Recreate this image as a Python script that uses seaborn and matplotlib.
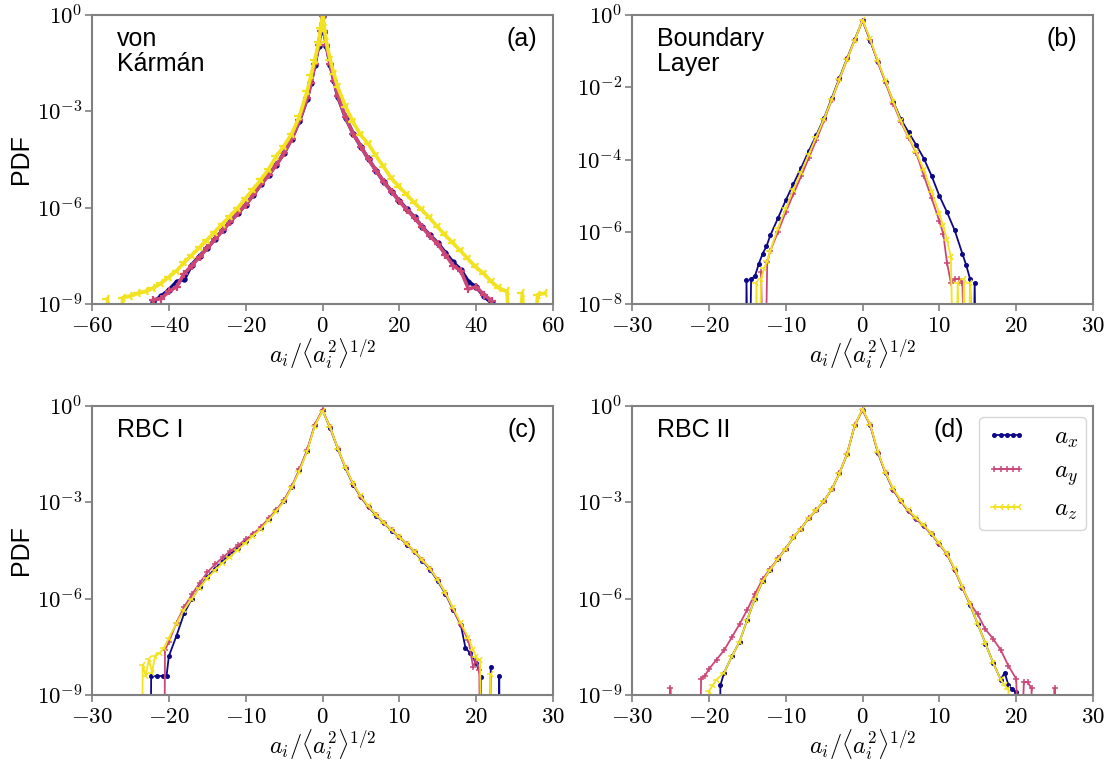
import numpy as np
import matplotlib
matplotlib.use("Agg")
import matplotlib.pyplot as plt
import seaborn as sns
from matplotlib.ticker import FuncFormatter, FixedLocator, NullLocator

# ---------------- data ----------------
# panel (a) von Karman
a_xy_x = [-46, -44, -42, -40, -38, -36, -34, -32, -30, -28, -26, -24, -22, -20, -18, -16, -14, -12, -10, -8, -6, -4,
          -3, -2, -1, -0.5, 0, 0.5, 1, 2, 3,
          4, 6, 8, 10, 12, 14, 16, 18, 20, 22, 24, 26, 28, 30, 32, 34, 36, 38, 40, 42, 44, 46]
a_ax_y = [1e-12, 1.2e-9, 1.8e-9, 2.8e-9, 5e-9, 6e-9, 1.7e-8, 3.2e-8, 5.6e-8, 1.07e-7, 2e-7, 3.8e-7, 6.8e-7, 1.26e-6,
          2.5e-6, 5.4e-6, 1.07e-5, 2.2e-5, 5e-5, 1.4e-4, 5e-4, 2.4e-3,
          7.5e-3, 0.028, 0.11, 0.3, 0.89, 0.3, 0.11, 0.028, 8.5e-3,
          2.8e-3, 6.3e-4, 2e-4, 7.9e-5, 3.2e-5, 1.4e-5, 6.3e-6, 3.2e-6, 1.66e-6, 8.9e-7, 5e-7, 2.5e-7, 1.4e-7, 8e-8,
          4e-8, 2e-8, 1.2e-8, 5e-9, 3.5e-9, 1.8e-9, 1.1e-9, 1e-12]
a_ay_y = [1e-12, 1.4e-9, 1.5e-9, 2.5e-9, 3.5e-9, 9e-9, 1.6e-8, 3e-8, 5.5e-8, 1.05e-7, 2e-7, 3.7e-7, 6.8e-7, 1.25e-6,
          2.5e-6, 5.3e-6, 1.05e-5, 2.2e-5, 5e-5, 1.4e-4, 5.2e-4, 2.5e-3,
          7.8e-3, 0.029, 0.115, 0.31, 0.92, 0.31, 0.115, 0.029, 9e-3,
          2.9e-3, 6.4e-4, 2e-4, 8e-5, 3.2e-5, 1.4e-5, 6.3e-6, 3.1e-6, 1.6e-6, 8.5e-7, 4.8e-7, 2.5e-7, 1.3e-7, 7.5e-8,
          3.5e-8, 1.6e-8, 1.1e-8, 3e-9, 3.5e-9, 2e-9, 1.3e-9, 1e-12]
a_az_x = [-56, -54, -52, -50, -48, -46, -44, -42, -40, -38, -36, -34, -32, -30, -28, -26, -24, -22, -20, -18, -16,
          -14, -12, -10, -8, -6, -4,
          -3, -2, -1, -0.5, 0, 0.5, 1, 2, 3,
          4, 6, 8, 10, 12, 14, 16, 18, 20, 22, 24, 26, 28, 30, 32, 34, 36, 38, 40, 42, 44, 46, 48, 50, 52, 54, 56, 58]
a_az_y = [1.5e-9, 1e-12, 1.6e-9, 1.8e-9, 2.2e-9, 2.5e-9, 3.2e-9, 4.5e-9, 7e-9, 1.1e-8, 2e-8, 3.4e-8, 5.9e-8, 1e-7,
          1.8e-7, 3.2e-7, 5.6e-7, 1e-6, 2e-6, 3.8e-6, 7.6e-6, 1.6e-5, 4e-5, 8.5e-5, 2e-4, 7e-4, 4.2e-3,
          0.013, 0.04, 0.14, 0.38, 0.95, 0.38, 0.14, 0.04, 0.014,
          5.5e-3, 1.4e-3, 4.5e-4, 1.8e-4, 9.3e-5, 4e-5, 1.8e-5, 8e-6, 4.5e-6, 2.5e-6, 1.4e-6, 8.3e-7, 4.7e-7, 2.5e-7,
          1.4e-7, 8e-8, 4.5e-8, 2.5e-8, 1.4e-8, 9e-9, 5e-9, 3.2e-9, 2.5e-9, 1e-12, 2.2e-9, 1e-12, 2e-9, 2.2e-9]

# panel (b) boundary layer
b_ax_x = [-15.2, -15.1, -14.8, -14.5, -14, -13.5, -13, -12.5, -12, -11, -10, -9, -8, -7, -6, -5, -4, -3, -2, -1, 0,
          1, 2, 3, 4, 5, 6, 7, 8, 9, 10, 11, 12, 13, 13.5, 14, 14.3, 14.6, 14.9]
b_ax_y = [1e-12, 4.7e-8, 1e-12, 5e-8, 6e-8, 1.3e-7, 2.5e-7, 4e-7, 8e-7, 2.4e-6, 7.4e-6, 2.1e-5, 5.8e-5, 1.7e-4,
          4.8e-4, 1.4e-3, 5e-3, 0.018, 0.063, 0.21, 0.7,
          0.19, 0.05, 0.0138, 4e-3, 1.3e-3, 5.6e-4, 2.5e-4, 1.05e-4, 3.5e-5, 1e-5, 3.5e-6, 1.1e-6, 2.5e-7, 1.2e-7,
          5e-8, 1e-12, 4e-8, 1e-12]
b_ay_x = [-13.4, -13.2, -12.8, -12.4, -12, -11, -10, -9, -8, -7, -6, -5, -4, -3, -2, -1, 0,
          1, 2, 3, 4, 5, 6, 7, 8, 9, 10, 10.5, 11, 11.5, 12, 12.5, 13, 13.5]
b_ay_y = [1e-12, 8e-8, 1e-12, 1.5e-7, 3e-7, 1e-6, 3.5e-6, 1.1e-5, 3.4e-5, 1.1e-4, 3.5e-4, 1.2e-3, 4.4e-3, 0.016,
          0.058, 0.2, 0.68,
          0.2, 0.048, 0.013, 3.5e-3, 1.07e-3, 4e-4, 1.5e-4, 3.5e-5, 8.5e-6, 2e-6, 9e-7, 1.4e-7, 4e-8, 5e-8, 5e-8,
          4e-8, 1e-12]
b_az_x = [-14, -13.8, -13.5, -13.2, -12.8, -12.4, -12, -11, -10, -9, -8, -7, -6, -5, -4, -3, -2, -1, 0,
          1, 2, 3, 4, 5, 6, 7, 8, 9, 10, 10.5, 11, 11.5, 12, 12.4, 12.8, 13.2, 13.6, 14, 14.2]
b_az_y = [1e-12, 4e-8, 1e-12, 5e-8, 1e-7, 1.6e-7, 3e-7, 1.3e-6, 4.5e-6, 1.5e-5, 4.5e-5, 1.4e-4, 4.3e-4, 1.35e-3,
          4.6e-3, 0.017, 0.06, 0.2, 0.72,
          0.21, 0.052, 0.0145, 4e-3, 1.15e-3, 4.2e-4, 1.6e-4, 5e-5, 1.3e-5, 3.2e-6, 1.5e-6, 6e-7, 2e-7, 1e-12,
          4e-8, 1e-12, 5e-8, 1e-12, 4e-8, 1e-12]

# panel (c) RBC I
c_ax_x = [-22.4, -22.3, -21.5, -20.8, -20.3, -20, -19, -18, -17, -16, -15, -14, -13, -12, -11, -10, -9, -8, -7, -6,
          -5, -4, -3, -2, -1, 0, 1, 2, 3, 4, 5, 6, 7, 8, 9, 10, 11, 12, 13, 14, 15, 16, 17, 18,
          18.6, 19.2, 20, 20.6, 20.8, 21.8, 21.9, 22.1, 22.9, 23, 23.1]
c_ax_y = [1e-12, 3.9e-9, 3.9e-9, 3.9e-9, 3.9e-9, 1.6e-8, 7e-8, 3.5e-7, 1e-6, 2.3e-6, 4.7e-6, 8.5e-6, 1.5e-5, 2.4e-5,
          3.8e-5, 6.3e-5, 1e-4, 1.6e-4, 3e-4, 5.6e-4, 1.1e-3, 3e-3, 0.01, 0.04, 0.25, 0.72,
          0.2, 0.045, 0.0112, 3.5e-3, 1.4e-3, 7e-4, 3.8e-4, 2.2e-4, 1.3e-4, 8e-5, 4.8e-5, 2.8e-5, 1.5e-5, 8e-6,
          3.5e-6, 1.4e-6, 4.5e-7, 1.5e-7,
          3e-8, 2e-8, 1e-8, 3.7e-9, 1e-12, 1e-12, 7.6e-9, 1e-12, 1e-12, 4e-9, 1e-12]
c_ay_x = [-20.6, -20.5, -20, -19, -18, -17, -16, -15, -14, -13, -12, -11, -10, -9, -8, -7, -6, -5, -4, -3, -2, -1, 0,
          1, 2, 3, 4, 5, 6, 7, 8, 9, 10, 11, 12, 13, 14, 15, 16, 17, 18, 19, 19.6, 20, 20.4, 20.6]
c_ay_y = [1e-12, 2.5e-8, 4.5e-8, 1.8e-7, 5.5e-7, 1.35e-6, 3e-6, 6.5e-6, 1.15e-5, 1.9e-5, 3e-5, 4.5e-5, 7e-5, 1.05e-4,
          1.7e-4, 3.1e-4, 5.8e-4, 1.15e-3, 3.1e-3, 0.0105, 0.042, 0.26, 0.74,
          0.21, 0.046, 0.0115, 3.6e-3, 1.45e-3, 7.2e-4, 3.9e-4, 2.3e-4, 1.35e-4, 8.3e-5, 5e-5, 2.9e-5, 1.6e-5,
          8.5e-6, 3.8e-6, 1.5e-6, 4.8e-7, 1.5e-7, 5e-8, 7.5e-9, 1.2e-8, 6e-9, 1e-12]
c_az_x = [-23.5, -23.4, -23, -22.6, -22.2, -21.8, -21.2, -20.6, -20, -19, -18, -17, -16, -15, -14, -13, -12, -11,
          -10, -9, -8, -7, -6, -5, -4, -3, -2, -1, 0,
          1, 2, 3, 4, 5, 6, 7, 8, 9, 10, 11, 12, 13, 14, 15, 16, 17, 18, 19, 19.6, 20, 20.5, 20.8, 21.8, 21.9, 22.1]
c_az_y = [1e-12, 8.5e-9, 4e-9, 1.3e-8, 5e-9, 1.6e-8, 2e-8, 3e-8, 6e-8, 1.7e-7, 4.5e-7, 1e-6, 2.2e-6, 4.3e-6, 7.5e-6,
          1.3e-5, 2e-5, 3.3e-5, 5.5e-5, 9e-5, 1.5e-4, 2.8e-4, 5.3e-4, 1.05e-3, 2.9e-3, 0.0095, 0.038, 0.24, 0.7,
          0.21, 0.046, 0.0118, 3.7e-3, 1.5e-3, 7.4e-4, 4e-4, 2.3e-4, 1.35e-4, 8.3e-5, 5e-5, 2.9e-5, 1.6e-5, 8.5e-6,
          3.8e-6, 1.5e-6, 5e-7, 1.7e-7, 6e-8, 2.5e-8, 1.5e-8, 1.2e-8, 1e-12, 1e-12, 4.5e-9, 1e-12]

# panel (d) RBC II
d_ax_x = [-18.6, -18.5, -18, -17, -16, -15, -14, -13, -12, -11, -10, -9, -8, -7, -6, -5, -4, -3, -2, -1, 0,
          1, 2, 3, 4, 5, 6, 7, 8, 9, 10, 11, 12, 13, 14, 15, 16, 17, 18, 18.5, 19, 19.5, 20, 20.2]
d_ax_y = [1e-12, 2e-9, 5e-9, 1.6e-8, 4.5e-8, 2.2e-7, 1e-6, 3.5e-6, 8e-6, 1.7e-5, 3.5e-5, 8e-5, 1.5e-4, 3.2e-4,
          5.6e-4, 1.1e-3, 2.5e-3, 7.9e-3, 0.032, 0.25, 0.75,
          0.25, 0.035, 7.9e-3, 2.4e-3, 1.05e-3, 5.2e-4, 3e-4, 1.8e-4, 1e-4, 5e-5, 2.4e-5, 7.9e-6, 2.2e-6, 6.3e-7,
          1.6e-7, 4e-8, 1e-8, 3e-9, 5e-9, 2e-9, 1.5e-9, 1.2e-9, 1e-12]
d_ay_x = [-25.1, -25, -24.9, -21.3, -21, -20.5, -20, -19, -18, -17, -16, -15, -14, -13, -12, -11, -10, -9, -8, -7,
          -6, -5, -4, -3, -2, -1, 0,
          1, 2, 3, 4, 5, 6, 7, 8, 9, 10, 11, 12, 13, 14, 15, 16, 17, 18, 19, 20,
          20.5, 21, 21.5, 22, 22.2, 24.9, 25, 25.1]
d_ay_y = [1e-12, 1.6e-9, 1e-12, 1e-12, 3.2e-9, 4e-9, 6.3e-9, 1.26e-8, 2.5e-8, 6.3e-8, 1.6e-7, 4.5e-7, 1.4e-6, 4e-6,
          8.5e-6, 1.8e-5, 3.6e-5, 8e-5, 1.5e-4, 3.2e-4, 5.6e-4, 1.1e-3, 2.5e-3, 7.9e-3, 0.032, 0.25, 0.74,
          0.25, 0.035, 7.9e-3, 2.4e-3, 1.05e-3, 5.2e-4, 3e-4, 1.8e-4, 1e-4, 5e-5, 2.4e-5, 7.9e-6, 2.2e-6, 7e-7,
          3.2e-7, 1.1e-7, 5.6e-8, 2.5e-8, 8e-9, 3.2e-9,
          1e-12, 2.5e-9, 2.5e-9, 1.6e-9, 1e-12, 1e-12, 1.6e-9, 1e-12]
d_az_x = [-20.1, -20, -19.5, -19, -18, -17, -16, -15, -14, -13, -12, -11, -10, -9, -8, -7, -6, -5, -4, -3, -2, -1, 0,
          1, 2, 3, 4, 5, 6, 7, 8, 9, 10, 11, 12, 13, 14, 15, 16, 17, 18, 18.5, 19, 19.1]
d_az_y = [1e-12, 1.3e-9, 2e-9, 3e-9, 5e-9, 1.6e-8, 4.5e-8, 2.2e-7, 1e-6, 3.5e-6, 8e-6, 1.7e-5, 3.5e-5, 8e-5, 1.5e-4,
          3.2e-4, 5.6e-4, 1.1e-3, 2.5e-3, 7.9e-3, 0.032, 0.25, 0.78,
          0.26, 0.037, 8.3e-3, 2.6e-3, 1.12e-3, 5.6e-4, 3.2e-4, 1.9e-4, 1.05e-4, 5.2e-5, 2.5e-5, 8.3e-6, 2.3e-6,
          6.6e-7, 1.6e-7, 4e-8, 1e-8, 3e-9, 2e-9, 1.5e-9, 1e-12]

series_labels = [r"$a_x$", r"$a_y$", r"$a_z$"]
panel_names = ["von\nKármán", "Boundary\nLayer", "RBC I", "RBC II"]
panel_tags = ["(a)", "(b)", "(c)", "(d)"]
x_limits = [(-60, 60), (-30, 30), (-30, 30), (-30, 30)]
x_ticks = [[-60, -40, -20, 0, 20, 40, 60], [-30, -20, -10, 0, 10, 20, 30],
           [-30, -20, -10, 0, 10, 20, 30], [-30, -20, -10, 0, 10, 20, 30]]
y_limits = [(1e-9, 1e0), (1e-8, 1e0), (1e-9, 1e0), (1e-9, 1e0)]
y_ticks = [[1e-9, 1e-6, 1e-3, 1e0], [1e-8, 1e-6, 1e-4, 1e-2, 1e0],
           [1e-9, 1e-6, 1e-3, 1e0], [1e-9, 1e-6, 1e-3, 1e0]]

panels = [
    [(a_xy_x, a_ax_y), (a_xy_x, a_ay_y), (a_az_x, a_az_y)],
    [(b_ax_x, b_ax_y), (b_ay_x, b_ay_y), (b_az_x, b_az_y)],
    [(c_ax_x, c_ax_y), (c_ay_x, c_ay_y), (c_az_x, c_az_y)],
    [(d_ax_x, d_ax_y), (d_ay_x, d_ay_y), (d_az_x, d_az_y)],
]

# ---------------- style ----------------
sns.set_theme(style="ticks")
plt.rcParams['font.family'] = ['Liberation Sans', 'DejaVu Sans']
plt.rcParams['mathtext.fontset'] = 'cm'
plt.rcParams['text.color'] = 'black'
plt.rcParams['axes.labelcolor'] = 'black'

colors = ["#0d0887", "#cc4778", "#f3e21f"]
markers = [".", "+", "3"]
spine_col = "#808080"

W, H = 1110, 767
fig = plt.figure(figsize=(W / 100, H / 100), dpi=100)
boxes = [(92, 14.7, 553, 304.3), (632, 14.7, 1093, 304.3),
         (92, 405.7, 553, 695.0), (632, 405.7, 1093, 695.0)]

xfmt = FuncFormatter(lambda v, p: f"${v:.0f}$")
yfmt = FuncFormatter(lambda v, p: f"$10^{{{int(round(np.log10(v)))}}}$")

axes = []
for i, (l, t, r, b) in enumerate(boxes):
    ax = fig.add_axes([l / W, 1 - b / H, (r - l) / W, (b - t) / H])
    ax.set_yscale("log")
    dense = (i == 0)
    for j, (xs, ys) in enumerate(panels[i]):
        ms = [6, 6, 7][j] if dense else [5, 5, 6][j]
        sns.lineplot(x=xs, y=ys, ax=ax, color=colors[j], marker=markers[j], markersize=ms,
                     markeredgecolor=colors[j], markerfacecolor=colors[j],
                     markeredgewidth=1.6 if dense else 1.1,
                     linewidth=2.6 if dense else 1.3, estimator=None, sort=False, legend=False,
                     label=series_labels[j] if i == 3 else None)
    ax.set_xlim(*x_limits[i])
    ax.set_ylim(*y_limits[i])
    ax.xaxis.set_major_locator(FixedLocator(x_ticks[i]))
    ax.yaxis.set_major_locator(FixedLocator(y_ticks[i]))
    ax.yaxis.set_minor_locator(NullLocator())
    ax.xaxis.set_minor_locator(NullLocator())
    ax.xaxis.set_major_formatter(xfmt)
    ax.yaxis.set_major_formatter(yfmt)
    ax.tick_params(axis="both", which="major", direction="out", length=5, width=1.2,
                   color=spine_col, labelsize=16.5, labelcolor="black", pad=2)
    for s in ax.spines.values():
        s.set_color(spine_col)
        s.set_linewidth(1.5)
        s.set_visible(True)
    ax.set_xlabel(r"$a_i/\langle a_i^2\rangle^{1/2}$", fontsize=17.5, labelpad=0)
    ax.set_ylabel("")
    ax.text(0.054, 0.958, panel_names[i], transform=ax.transAxes, ha="left", va="top",
            fontsize=18, linespacing=1.05)
    tag_x = 0.72 if i == 3 else 0.965
    ax.text(tag_x, 0.958, panel_tags[i], transform=ax.transAxes, ha="right", va="top", fontsize=18)
    axes.append(ax)

for (l, t, r, b) in (boxes[0], boxes[2]):
    fig.text(21 / W, 1 - (t + b) / 2 / H, "PDF", rotation=90, ha="center", va="center", fontsize=18)

leg = axes[3].legend(loc="upper right", bbox_to_anchor=(0.985, 0.96), borderaxespad=0, fontsize=18,
                     numpoints=5, handlelength=1.6, handletextpad=1.1, labelspacing=0.35,
                     borderpad=0.3, frameon=True, fancybox=True)
leg.get_frame().set_edgecolor("#cccccc")

fig.savefig("out.png", dpi=100)
